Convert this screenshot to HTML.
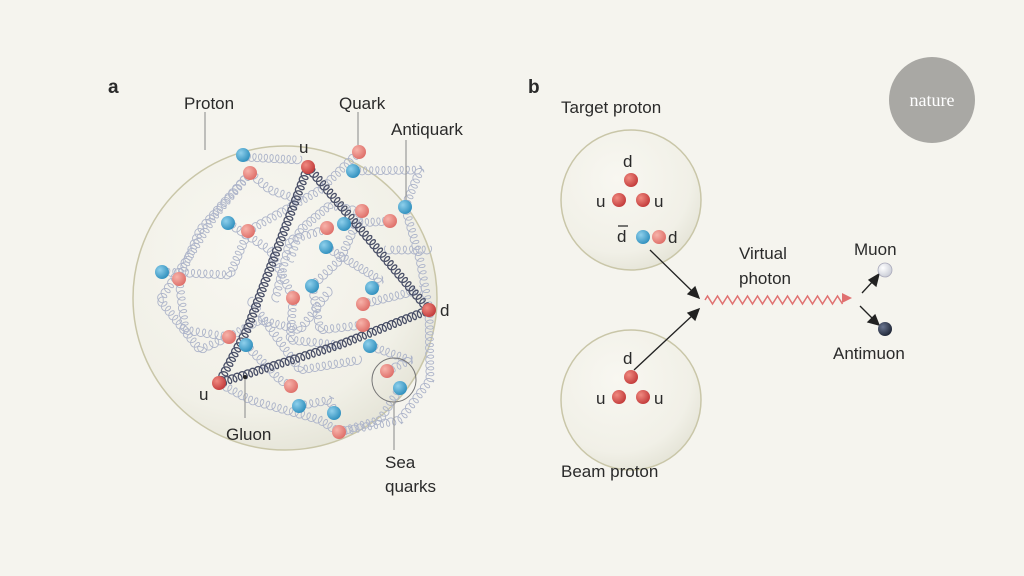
<!DOCTYPE html>
<html><head><meta charset="utf-8"><style>
html,body{margin:0;padding:0;background:#f5f4ee;}
svg{display:block;}
text{font-family:"Liberation Sans",sans-serif;fill:#2a2a2a;}
</style></head><body>
<svg id="s" width="1024" height="576" viewBox="0 0 1024 576" xmlns="http://www.w3.org/2000/svg">
<defs>
<radialGradient id="pg" cx="0.4" cy="0.35" r="0.7">
<stop offset="0" stop-color="#f8f7f1"/><stop offset="0.75" stop-color="#f1f0e7"/><stop offset="1" stop-color="#e4e3d6"/>
</radialGradient>
<radialGradient id="rd" cx="0.35" cy="0.35" r="0.7"><stop offset="0" stop-color="#f08a80"/><stop offset="1" stop-color="#c23a3a"/></radialGradient>
<radialGradient id="lr" cx="0.35" cy="0.35" r="0.7"><stop offset="0" stop-color="#f7b3aa"/><stop offset="1" stop-color="#de6e68"/></radialGradient>
<radialGradient id="bl" cx="0.35" cy="0.35" r="0.7"><stop offset="0" stop-color="#8fd0ec"/><stop offset="1" stop-color="#2f8fbd"/></radialGradient>
<radialGradient id="mu" cx="0.35" cy="0.35" r="0.7"><stop offset="0" stop-color="#ffffff"/><stop offset="1" stop-color="#c9ccd6"/></radialGradient>
<radialGradient id="am" cx="0.35" cy="0.35" r="0.7"><stop offset="0" stop-color="#6a7590"/><stop offset="1" stop-color="#1e2535"/></radialGradient>
</defs>
<text x="108" y="93" font-size="19" font-weight="bold">a</text>
<text x="528" y="93" font-size="19" font-weight="bold">b</text>
<circle cx="932" cy="100" r="43" fill="#a9a8a4"/>
<text x="932" y="106" font-size="18" text-anchor="middle" style="fill:#fff;font-family:'Liberation Serif',serif">nature</text>

<circle cx="285" cy="298" r="152" fill="url(#pg)" stroke="#c9c6a8" stroke-width="1.5"/>
<circle cx="631" cy="200" r="70" fill="url(#pg)" stroke="#c9c6a8" stroke-width="1.5"/>
<circle cx="631" cy="400" r="70" fill="url(#pg)" stroke="#c9c6a8" stroke-width="1.5"/>
<g id="gl" fill="none"></g>
<g id="qk"></g>
<circle cx="394" cy="380" r="22" fill="none" stroke="#777" stroke-width="1"/>
<g stroke="#999" stroke-width="1.2">
<line x1="205" y1="112" x2="205" y2="150"/><line x1="358" y1="112" x2="358" y2="145"/>
<line x1="406" y1="140" x2="406" y2="200"/><line x1="394" y1="402" x2="394" y2="450"/>
<line x1="245" y1="377" x2="245" y2="418"/>
</g>
<circle cx="245" cy="377" r="2" fill="#222"/>
<g font-size="17">
<text x="184" y="109">Proton</text><text x="339" y="109">Quark</text><text x="391" y="135">Antiquark</text>
<text x="299" y="153">u</text><text x="440" y="316">d</text><text x="199" y="400">u</text>
<text x="226" y="440">Gluon</text><text x="385" y="468">Sea</text><text x="385" y="492">quarks</text>
<text x="561" y="113">Target proton</text><text x="561" y="477">Beam proton</text>
<text x="623" y="167">d</text><text x="596" y="207">u</text><text x="654" y="207">u</text>
<text x="617" y="242">d</text><text x="668" y="243">d</text>
<text x="623" y="364">d</text><text x="596" y="404">u</text><text x="654" y="404">u</text>
<text x="739" y="259">Virtual</text><text x="739" y="284">photon</text>
<text x="854" y="255">Muon</text><text x="833" y="359">Antimuon</text>
</g>
<line x1="618" y1="226" x2="628" y2="226" stroke="#222" stroke-width="1.2"/>
<path id="zz" fill="none" stroke="#e07070" stroke-width="1.5"/>
<g stroke="#222" stroke-width="1.3" fill="#222">
<line x1="650" y1="250" x2="694" y2="293"/><polygon points="699,298 688,294 695,287"/>
<line x1="634" y1="370" x2="694" y2="314"/><polygon points="699,309 695,320 688,313"/>
<line x1="862" y1="293" x2="874" y2="280"/><polygon points="879,274 876,286 869,280"/>
<line x1="860" y1="306" x2="874" y2="320"/><polygon points="879,325 868,322 875,315"/>
</g>
<polygon points="852,298 842,293 842,303" fill="#e07070"/>
<circle cx="885" cy="270" r="7" fill="url(#mu)" stroke="#aab" stroke-width="0.8"/>
<circle cx="885" cy="329" r="7" fill="url(#am)"/>
</svg>
<script>
var NS="http://www.w3.org/2000/svg";
function coil(pts,col,w,amp,back,step){
 var d="";
 for(var k=0;k<pts.length-1;k++){
  var x1=pts[k][0],y1=pts[k][1],x2=pts[k+1][0],y2=pts[k+1][1];
  var L=Math.hypot(x2-x1,y2-y1),ux=(x2-x1)/L,uy=(y2-y1)/L,nx=-uy,ny=ux;
  var n=Math.max(1,Math.round(L/step));
  for(var i=0;i<=n*16;i++){var t=i/16,th=t*2*Math.PI;
   var a=t*L/n - back*Math.sin(th), b=amp*(1-Math.cos(th))*0.5-amp/2;
   var x=x1+ux*a+nx*b,y=y1+uy*a+ny*b;
   d+=(d===""?"M":"L")+x.toFixed(1)+" "+y.toFixed(1);}
 }
 var p=document.createElementNS(NS,"path");p.setAttribute("d",d);p.setAttribute("stroke",col);p.setAttribute("stroke-width",w);
 document.getElementById("gl").appendChild(p);
}
var light="#aeb5ca";
var L=[
[[250,173],[200,230],[179,280]],[[243,157],[300,160]],[[250,173],[215,215],[190,255],[160,300],[200,350],[229,337]],
[[353,171],[420,170],[405,207]],[[359,152],[320,190],[248,231]],[[228,223],[270,250],[293,298]],
[[162,272],[230,275],[248,232]],[[179,280],[185,330],[229,337]],[[327,229],[290,240],[275,300]],
[[326,247],[380,280],[372,288]],[[344,224],[390,221]],[[405,207],[420,260],[429,310]],
[[363,304],[420,290]],[[312,286],[320,330],[363,325]],[[293,298],[290,340],[339,345]],
[[370,346],[410,360],[387,371]],[[246,345],[280,380],[291,386]],[[299,406],[330,400],[334,413]],
[[339,432],[380,420],[400,388]],[[219,383],[250,400],[320,420],[339,432]],[[429,310],[430,380],[400,420],[339,432]],
[[362,212],[330,205],[300,230],[290,260]],[[250,173],[270,190],[300,200]],[[229,337],[260,320],[300,330],[330,290]],
[[312,286],[340,260],[362,211]],[[386,250],[430,250]],[[250,300],[300,370],[360,360]]
];
L.forEach(function(p){coil(p,light,0.9,8,3,6);});
var dk="#4a5068";
coil([[308,167],[429,310]],dk,1.3,8,3,5.5);
coil([[429,310],[339,345],[219,383]],dk,1.3,8,3,5.5);
coil([[308,167],[247,330],[219,383]],dk,1.3,8,3,5.5);
function q(x,y,f,r){var c=document.createElementNS(NS,"circle");c.setAttribute("cx",x);c.setAttribute("cy",y);c.setAttribute("r",r||7);c.setAttribute("fill","url(#"+f+")");document.getElementById("qk").appendChild(c);}
var Q=[[243,155,"bl"],[250,173,"lr"],[359,152,"lr"],[353,171,"bl"],[405,207,"bl"],[390,221,"lr"],[228,223,"bl"],[248,231,"lr"],
[327,228,"lr"],[326,247,"bl"],[362,211,"lr"],[344,224,"bl"],[162,272,"bl"],[179,279,"lr"],[312,286,"bl"],[293,298,"lr"],
[372,288,"bl"],[363,304,"lr"],[363,325,"lr"],[370,346,"bl"],[229,337,"lr"],[246,345,"bl"],[291,386,"lr"],[299,406,"bl"],
[387,371,"lr"],[400,388,"bl"],[334,413,"bl"],[339,432,"lr"],[308,167,"rd"],[429,310,"rd"],[219,383,"rd"],
[631,180,"rd"],[619,200,"rd"],[643,200,"rd"],[643,237,"bl"],[659,237,"lr"],[631,377,"rd"],[619,397,"rd"],[643,397,"rd"]];
Q.forEach(function(a){q(a[0],a[1],a[2]);});
var d="M705 300";for(var x=705;x<=842;x+=5){d+="L"+(x+2.5)+" "+((x/5)%2?296:304);}
document.getElementById("zz").setAttribute("d",d);
</script>
</body></html>
